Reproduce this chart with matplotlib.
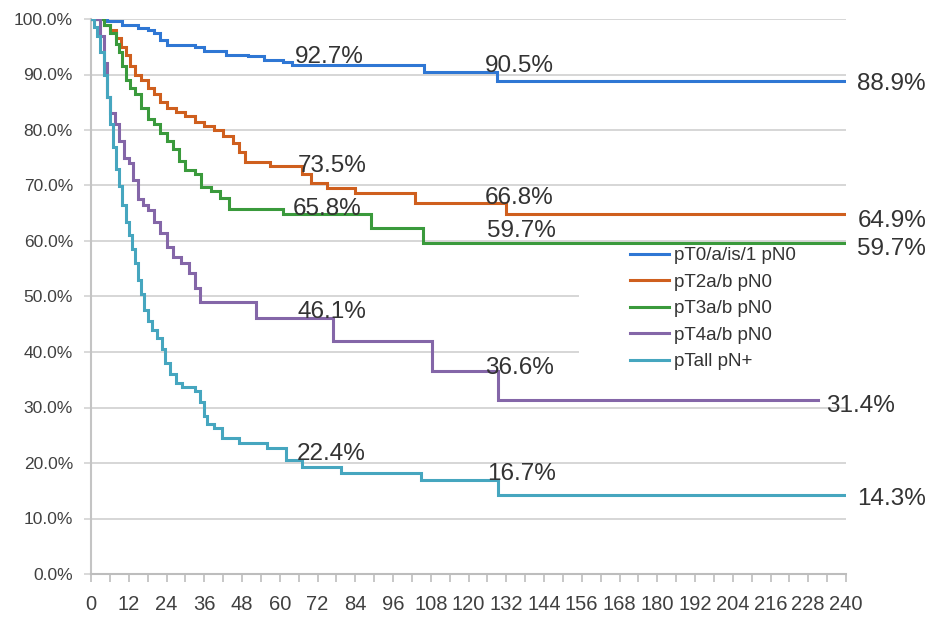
import matplotlib
matplotlib.use("Agg")
import matplotlib.pyplot as plt
from matplotlib import font_manager
from matplotlib.patches import Rectangle
from matplotlib.ticker import MultipleLocator, FuncFormatter

# ---------------- data ----------------
series_names = ["pT0/a/is/1 pN0", "pT2a/b pN0", "pT3a/b pN0", "pT4a/b pN0", "pTall pN+"]

t_blue = [0, 5, 10, 15, 18, 20, 22, 24, 33, 36, 43, 50, 55, 61, 64, 106, 129, 240]
s_blue = [1.0, 0.996, 0.99, 0.984, 0.98, 0.975, 0.962, 0.953, 0.95, 0.942, 0.936, 0.933,
          0.927, 0.922, 0.917, 0.905, 0.889, 0.889]

t_orange = [0, 4, 6, 8, 9.5, 11, 12.5, 14, 16, 18, 20, 22, 24, 27, 30, 33, 36, 39, 42, 45,
            47, 49, 57, 67, 70, 75, 84, 103, 132, 240]
s_orange = [1.0, 0.99, 0.98, 0.965, 0.95, 0.935, 0.915, 0.9, 0.89, 0.875, 0.865, 0.85, 0.84,
            0.832, 0.825, 0.815, 0.808, 0.8, 0.79, 0.777, 0.76, 0.742, 0.735, 0.72, 0.705,
            0.695, 0.686, 0.668, 0.649, 0.649]

t_green = [0, 4, 6, 8, 9, 10, 11, 12.5, 14, 16, 18, 20, 22, 24, 26, 28, 30, 33, 35, 38, 41,
           44, 61, 89, 105.5, 240]
s_green = [1.0, 0.99, 0.975, 0.955, 0.94, 0.915, 0.89, 0.875, 0.865, 0.84, 0.82, 0.81, 0.795,
           0.78, 0.765, 0.745, 0.728, 0.72, 0.697, 0.69, 0.678, 0.658, 0.648, 0.623, 0.597, 0.597]

t_purple = [0, 3, 4, 5, 6, 7.5, 9, 10.5, 12, 13.5, 15, 16.5, 18, 20, 22, 24, 26, 28.5, 31,
            33, 34.5, 52.5, 77, 108.5, 129.5, 231]
s_purple = [1.0, 0.97, 0.92, 0.86, 0.83, 0.81, 0.78, 0.75, 0.74, 0.71, 0.675, 0.665, 0.655,
            0.635, 0.615, 0.59, 0.572, 0.56, 0.542, 0.515, 0.49, 0.461, 0.42, 0.366, 0.314, 0.314]

t_cyan = [0, 1, 2, 3, 4, 5, 6, 7, 8, 9, 10, 11, 12, 13, 14, 15, 16, 17, 18, 19.5, 21, 22.5,
          23.5, 25, 27, 29, 33, 34.5, 36, 37, 39, 41.5, 47, 56, 62, 67, 79.5, 105, 129.5, 240]
s_cyan = [1.0, 0.985, 0.97, 0.94, 0.9, 0.86, 0.81, 0.77, 0.73, 0.70, 0.665, 0.635, 0.61,
          0.585, 0.56, 0.53, 0.505, 0.475, 0.455, 0.44, 0.425, 0.405, 0.38, 0.36, 0.345,
          0.337, 0.33, 0.31, 0.285, 0.27, 0.263, 0.245, 0.236, 0.227, 0.205, 0.193, 0.182,
          0.169, 0.143, 0.143]

label_60 = ["92.7%", "73.5%", "65.8%", "46.1%", "22.4%"]
label_120 = ["90.5%", "66.8%", "59.7%", "36.6%", "16.7%"]
label_end = ["88.9%", "64.9%", "59.7%", "31.4%", "14.3%"]

x_ticks = list(range(0, 241, 12))

# ---------------- style / layout ----------------
colors = ["#2f77d4", "#cf5f1e", "#3a9a3c", "#8466a8", "#46a6bf"]

# label anchor positions (month, value) -- text baseline positions
pos_60 = [(64.8, 0.921), (65.8, 0.724), (64.2, 0.647), (65.8, 0.461), (65.5, 0.205)]
pos_120 = [(125.2, 0.905), (125.2, 0.667), (126.0, 0.607), (125.2, 0.360), (125.8, 0.169)]
pos_end = [(243.6, 0.872), (243.6, 0.625), (243.6, 0.575), (233.8, 0.292), (243.6, 0.124)]


def pick_font(name, fallback):
    try:
        font_manager.findfont(font_manager.FontProperties(family=name), fallback_to_default=False)
        return name
    except Exception:
        return fallback


main_font = pick_font("Liberation Sans", "DejaVu Sans")
narrow_font = pick_font("Liberation Sans Narrow", main_font)
plt.rcParams["font.family"] = [main_font, "DejaVu Sans"]

W, H = 942, 620
fig = plt.figure(figsize=(W / 100, H / 100), dpi=100)
left, right, top, bottom = 91, 846, 19, 574
ax = fig.add_axes([left / W, 1 - bottom / H, (right - left) / W, (bottom - top) / H])

ax.set_xlim(0, 240)
ax.set_ylim(0, 1.0)

grid_c = "#d3d3d3"
ax.set_axisbelow(True)
ax.yaxis.grid(True, color=grid_c, linewidth=1.3)
ax.xaxis.grid(False)

# white area behind legend hiding gridlines
ax.add_patch(Rectangle((0.646, 0.335), 0.354, 0.256, transform=ax.transAxes,
                       facecolor="white", edgecolor="none", zorder=1))

all_t = [t_blue, t_orange, t_green, t_purple, t_cyan]
all_s = [s_blue, s_orange, s_green, s_purple, s_cyan]
for t, s, c, n in zip(all_t, all_s, colors, series_names):
    ax.plot(t, s, drawstyle="steps-post", color=c, linewidth=2.2, label=n, zorder=3,
            solid_joinstyle="miter")

txt_c = "#333333"
for labels, poss in ((label_60, pos_60), (label_120, pos_120), (label_end, pos_end)):
    for lab, (x, y) in zip(labels, poss):
        ax.text(x, y, lab, fontsize=17.5, color=txt_c, ha="left", va="baseline",
                clip_on=False, zorder=4)

# axes appearance
for sp in ["top", "right"]:
    ax.spines[sp].set_visible(False)
ax.spines["left"].set_color("#c4c4c4")
ax.spines["left"].set_linewidth(1.5)
ax.spines["bottom"].set_color("#bdbdbd")
ax.spines["bottom"].set_linewidth(1.5)

ax.yaxis.set_major_locator(MultipleLocator(0.1))
ax.yaxis.set_major_formatter(FuncFormatter(lambda v, p: f"{v * 100:.1f}%"))
ax.set_xticks(x_ticks)
ax.xaxis.set_minor_locator(MultipleLocator(6))

ax.tick_params(axis="y", which="major", length=5, width=1.2, color=grid_c, pad=8,
               labelsize=12.5, labelcolor="#404040")
ax.tick_params(axis="x", which="both", length=6, width=1.2, color="#bdbdbd", pad=9,
               labelcolor="#404040", direction="out")
for lbl in ax.get_xticklabels():
    lbl.set_fontfamily(narrow_font)
    lbl.set_fontsize(14.5)

leg = ax.legend(loc="upper left", bbox_to_anchor=(630 / W, 1 - 247 / H),
                bbox_transform=fig.transFigure, frameon=False, borderpad=0,
                borderaxespad=0, handlelength=2.1, handletextpad=0.25,
                labelspacing=0.5, fontsize=13.5)
for txt in leg.get_texts():
    txt.set_color(txt_c)

fig.savefig("out.png", dpi=100)
